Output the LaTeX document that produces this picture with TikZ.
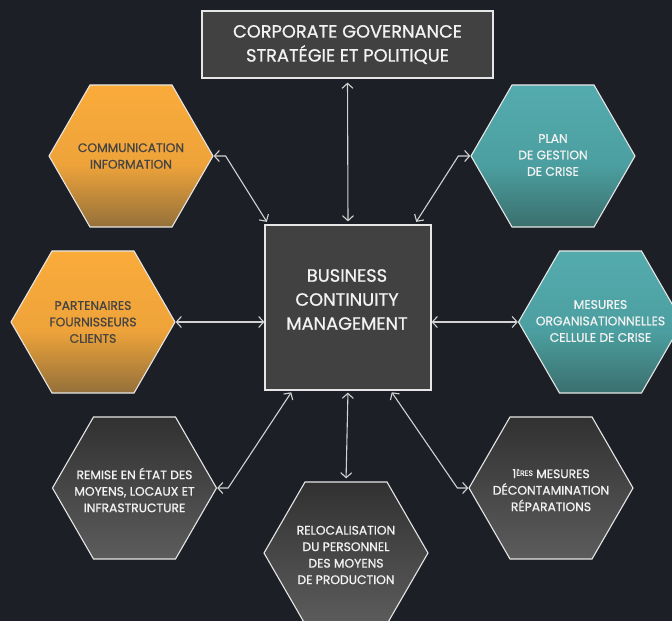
\documentclass[tikz,border=0pt]{standalone}
\usepackage{fontspec}
\setmainfont{Poppins}[FakeBold=0.9]
\usetikzlibrary{arrows.meta,shapes.geometric,calc}
\definecolor{bg}{HTML}{1C1F25}
\definecolor{boxfill}{HTML}{414141}
\definecolor{edge}{HTML}{E6E6E6}
\definecolor{arr}{HTML}{D2D2D2}
\definecolor{darktext}{HTML}{464442}
\definecolor{lighttext}{HTML}{F2F2F2}
\definecolor{obot}{HTML}{94703A}
\definecolor{omid}{HTML}{EEA33A}
\definecolor{otop}{HTML}{FAAB3A}
\definecolor{tbot}{HTML}{3A6F6D}
\definecolor{tmid}{HTML}{4C9FA0}
\definecolor{ttop}{HTML}{54ABAE}
\definecolor{gbot}{HTML}{5C5C5C}
\definecolor{gtop}{HTML}{313131}
\pgfdeclareverticalshading{orangeshade}{100bp}{color(0bp)=(obot);color(25bp)=(obot);color(47bp)=(omid);color(75bp)=(otop);color(100bp)=(otop)}
\pgfdeclareverticalshading{tealshade}{100bp}{color(0bp)=(tbot);color(25bp)=(tbot);color(47bp)=(tmid);color(75bp)=(ttop);color(100bp)=(ttop)}
\pgfdeclareverticalshading{grayshade}{100bp}{color(0bp)=(gbot);color(25bp)=(gbot);color(75bp)=(gtop);color(100bp)=(gtop)}
\tikzset{
  hexa/.style={regular polygon, regular polygon sides=6, minimum size=164pt, inner sep=0pt,
    draw=edge, line width=1.1pt},
  orangehex/.style={hexa, shading=orangeshade},
  tealhex/.style={hexa, shading=tealshade},
  grayhex/.style={hexa, shading=grayshade},
  hextext/.style={align=center, inner sep=0pt, text=lighttext, font=\fontsize{12.3}{16.5}\selectfont},
  darkhextext/.style={hextext, text=darktext},
  bigbox/.style={rectangle, draw=edge, line width=1.2pt, fill=boxfill, text=lighttext,
    align=center, inner sep=0pt, font=\fontsize{17.8}{24}\selectfont},
  boxtext/.style={text=lighttext, align=center, inner sep=0pt, font=\fontsize{17.8}{24}\selectfont},
  conn/.style={draw=arr, line width=1.1pt, {Straight Barb[length=5pt,width=11pt]}-{Straight Barb[length=5pt,width=11pt]}}
}
\begin{document}
\begin{tikzpicture}[x=1pt,y=-1pt]
\fill[bg] (0,0) rectangle (672,621);
\useasboundingbox (0,0) rectangle (672,621);
\clip (0,0) rectangle (672,621);

\node[bigbox, minimum width=291pt, minimum height=67pt] (gov) at (347.5,44.5) {CORPORATE GOVERNANCE\\STRATÉGIE ET POLITIQUE};
\node[bigbox, minimum width=166pt, minimum height=165pt] (bcm) at (348,307.5) {};
\node[boxtext] (bcmlabel) at (347,299.5) {BUSINESS\\CONTINUITY\\MANAGEMENT};

\node[orangehex] (comm) at (131,156) {};
\node[darkhextext] (commlabel) at (131,156) {COMMUNICATION\\INFORMATION};
\node[tealhex] (plan) at (553,156) {};
\node[hextext] (planlabel) at (553,155) {PLAN\\DE GESTION\\DE CRISE};
\node[orangehex] (part) at (93,322) {};
\node[darkhextext] (partlabel) at (93,322) {PARTENAIRES\\FOURNISSEURS\\CLIENTS};
\node[tealhex] (mes) at (600.5,322) {};
\node[hextext] (meslabel) at (600.5,321) {MESURES\\ORGANISATIONNELLES\\CELLULE DE CRISE};
\node[grayhex] (rem) at (134.5,488) {};
\node[hextext] (remlabel) at (134.5,490) {REMISE EN ÉTAT DES\\MOYENS, LOCAUX ET\\INFRASTRUCTURE};
\node[grayhex] (rel) at (346,553) {};
\node[hextext] (rellabel) at (346,555) {RELOCALISATION\\DU PERSONNEL\\DES MOYENS\\DE PRODUCTION};
\node[grayhex] (ere) at (551,488) {};
\node[hextext] (erelabel) at (551,490) {1\raisebox{0.35ex}{\fontsize{7.5}{8}\selectfont ÈRES} MESURES\\DÉCONTAMINATION\\RÉPARATIONS};

\draw[conn, shorten <=4pt, shorten >=3pt] (gov.south) -- (bcm.north);
\draw[conn, shorten >=3pt] (comm.east) -- ++(12,0) -- ([xshift=4pt]bcm.north west);
\draw[conn, shorten >=3pt] (plan.west) -- ++(-12,0) -- ([xshift=-17pt]bcm.north east);
\draw[conn] (part.east) -- (part.east -| bcm.west);
\draw[conn] (mes.west -| bcm.east) -- (mes.west);
\draw[conn, shorten >=2pt] (rem.east) -- ++(11,0) -- ([xshift=28pt]bcm.south west);
\draw[conn, shorten <=2pt, shorten >=3pt] (bcm.south) -- (rel.north);
\draw[conn, shorten >=2pt] (ere.west) -- ++(-11,0) -- ([xshift=-41pt]bcm.south east);
\end{tikzpicture}
\end{document}
